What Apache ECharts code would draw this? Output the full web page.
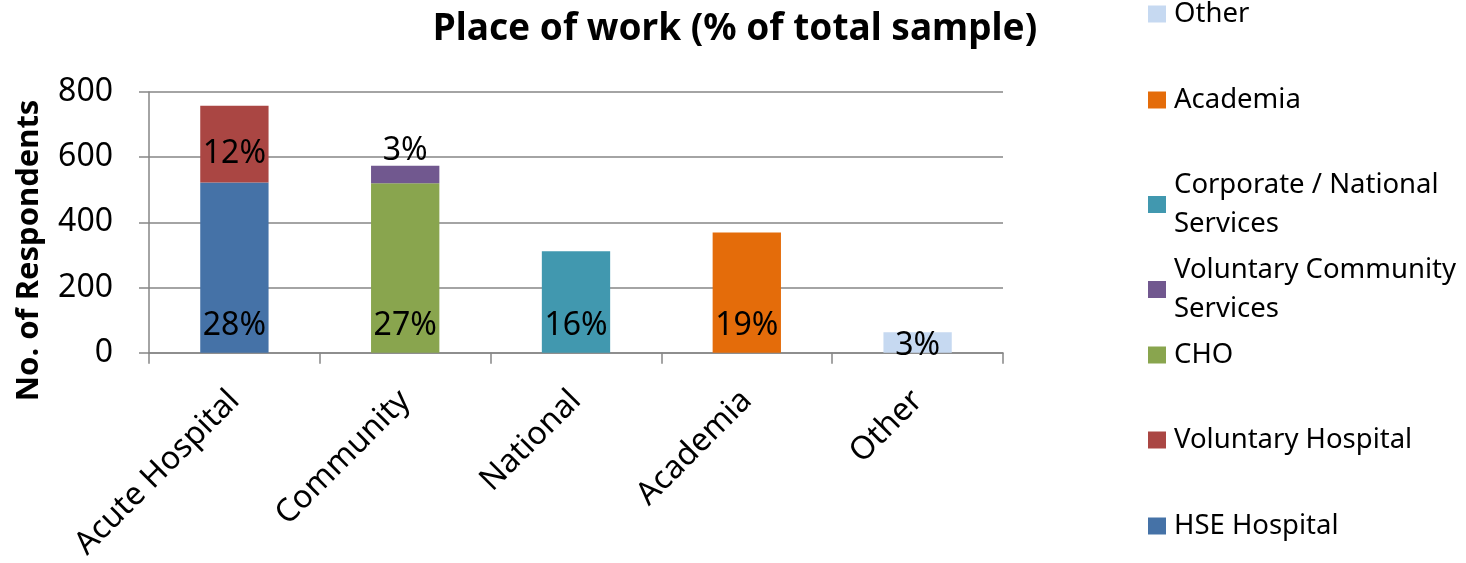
<!DOCTYPE html>
<html lang="en">
<head>
    <meta charset="utf-8"/>
    <title>Place of work</title>
    <script src="https://cdn.jsdelivr.net/npm/echarts@6/dist/echarts.min.js"></script>
    <style>
        html, body { margin: 0; padding: 0; background: #fff; }
        #main { width: 1466px; height: 563px; }
    </style>
</head>
<body>
<div id="main"></div>
<script type="text/javascript">

    // categories on the x axis
    var categories = ['Acute Hospital', 'Community', 'National', 'Academia', 'Other'];

    // series values (number of respondents), '-' where the series has no bar
    var hseHospital       = [522, '-', '-', '-', '-'];
    var voluntaryHospital = [236, '-', '-', '-', '-'];
    var cho               = ['-', 520, '-', '-', '-'];
    var voluntaryCommunity = ['-', 54, '-', '-', '-'];
    var corporateNational = ['-', '-', 311, '-', '-'];
    var academia          = ['-', '-', '-', 369, '-'];
    var other             = ['-', '-', '-', '-', 63];

    // percentage labels (% of total sample)
    var hsePct = ['28%', '', '', '', ''];
    var volHospPct = ['12%', '', '', '', ''];
    var choPct = ['', '27%', '', '', ''];
    var volCommPct = ['', '3%', '', '', ''];
    var corpPct = ['', '', '16%', '', ''];
    var acadPct = ['', '', '', '19%', ''];
    var otherPct = ['', '', '', '', '3%'];

    // y axis ticks
    var yMin = 0, yMax = 800, yStep = 200;

    var font = 'Noto Sans';
    var gridColor = '#868686';

    function makeSeries(name, values, pct, color, label) {
        var lab = Object.assign({
            show: true,
            color: '#000',
            fontFamily: font,
            fontSize: 32,
            formatter: function (p) { return pct[p.dataIndex]; }
        }, label);
        return {
            name: name,
            type: 'bar',
            stack: 'total',
            barWidth: '40%',
            itemStyle: {color: color},
            label: lab,
            data: values
        };
    }

    var series = [
        makeSeries('HSE Hospital', hseHospital, hsePct, '#4572A7', {position: 'insideBottom', distance: 11}),
        makeSeries('Voluntary Hospital', voluntaryHospital, volHospPct, '#AA4643', {position: 'inside', offset: [0, 10]}),
        makeSeries('CHO', cho, choPct, '#89A54E', {position: 'insideBottom', distance: 11}),
        makeSeries('Voluntary Community\nServices', voluntaryCommunity, volCommPct, '#71588F', {position: 'top', distance: -1}),
        makeSeries('Corporate / National\nServices', corporateNational, corpPct, '#4198AF', {position: 'insideBottom', distance: 11}),
        makeSeries('Academia', academia, acadPct, '#E46C0A', {position: 'insideBottom', distance: 11}),
        makeSeries('Other', other, otherPct, '#C6D9F1', {position: 'inside', offset: [0, 3]})
    ];

    // one legend per entry so the spacing can follow the reference
    var legendTops = {
        'Other': 0,
        'Academia': 86,
        'Corporate / National\nServices': 146,
        'Voluntary Community\nServices': 231,
        'CHO': 341,
        'Voluntary Hospital': 426,
        'HSE Hospital': 512
    };
    var legends = [];
    for (var name in legendTops) {
        var twoLine = name.indexOf('\n') >= 0;
        legends.push({
            data: [name],
            left: 1148,
            top: legendTops[name],
            padding: 0,
            orient: 'vertical',
            icon: 'rect',
            itemWidth: 18,
            itemHeight: 17,
            selectedMode: false,
            textStyle: {
                fontFamily: font,
                fontSize: 27.5,
                color: '#000',
                lineHeight: twoLine ? 39 : 28,
                padding: twoLine ? [39, 0, 0, 3] : [0, 0, 0, 3]
            }
        });
    }

    var myChart = echarts.init(document.getElementById('main'));

    var option = {
        animation: false,
        title: {
            text: 'Place of work (% of total sample)',
            left: 735,
            top: 9,
            padding: 0,
            textAlign: 'center',
            textStyle: {
                fontFamily: font,
                fontSize: 37,
                fontWeight: 'bold',
                color: '#000',
                lineHeight: 40
            }
        },
        legend: legends,
        grid: {
            left: 149,
            right: 463,
            top: 92,
            bottom: 206
        },
        xAxis: {
            type: 'category',
            data: categories,
            axisLine: {lineStyle: {color: gridColor, width: 1.5}},
            axisTick: {show: true, length: 11, lineStyle: {color: gridColor, width: 1.5}},
            axisLabel: {
                rotate: 45,
                margin: 43,
                color: '#000',
                fontFamily: font,
                fontSize: 32
            }
        },
        yAxis: {
            type: 'value',
            min: yMin,
            max: yMax,
            interval: yStep,
            name: 'No. of Respondents',
            nameLocation: 'middle',
            nameGap: 104,
            nameTextStyle: {
                fontFamily: font,
                fontSize: 31,
                fontWeight: 'bold',
                color: '#000',
                padding: [0, 56, 0, 0]
            },
            axisLine: {show: true, lineStyle: {color: gridColor, width: 1.5}},
            axisTick: {show: true, length: 10, lineStyle: {color: gridColor, width: 1.5}},
            splitLine: {lineStyle: {color: gridColor, width: 1.5}},
            axisLabel: {
                margin: 36,
                color: '#000',
                fontFamily: font,
                fontSize: 32
            }
        },
        series: series
    };

    myChart.setOption(option);
</script>
</body>
</html>
